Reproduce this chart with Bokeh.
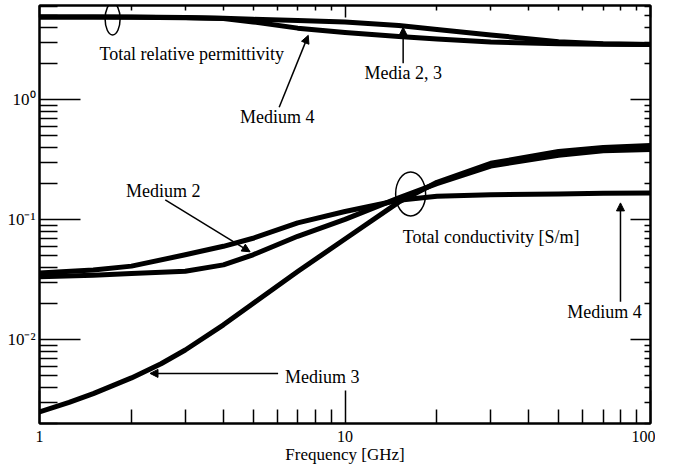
from bokeh.plotting import figure
from bokeh.models import LogAxis, FixedTicker, Arrow, NormalHead, Label
from bokeh.embed import file_html
from bokeh.resources import INLINE

# ---- data ----
freq = [1, 1.5, 2, 3, 4, 5, 7, 10, 15, 20, 30, 50, 70, 100]  # GHz

perm_media_2_3 = [4.9, 4.9, 4.9, 4.85, 4.78, 4.68, 4.58, 4.45, 4.16, 3.85, 3.47, 3.04, 2.93, 2.89]
perm_medium_4 = [4.9, 4.9, 4.88, 4.82, 4.75, 4.45, 3.95, 3.64, 3.37, 3.2, 3.03, 2.93, 2.9, 2.88]

cond_medium_2 = [0.0335, 0.0345, 0.0356, 0.0372, 0.042, 0.051, 0.0727, 0.1006, 0.152, 0.200, 0.28, 0.345, 0.375, 0.385]
cond_medium_4 = [0.036, 0.038, 0.041, 0.051, 0.060, 0.070, 0.094, 0.117, 0.145, 0.157, 0.161, 0.164, 0.166, 0.167]

freq_m3 = [1, 1.25, 1.5, 2, 2.5, 3, 4, 5, 7, 10, 15, 20, 30, 50, 70, 100]  # GHz
cond_medium_3 = [0.0025, 0.0030, 0.00355, 0.0048, 0.0063, 0.0082, 0.0133, 0.020, 0.037, 0.069,
                 0.14, 0.205, 0.295, 0.37, 0.40, 0.415]

x_major = [1, 10, 100]
x_minor = [2, 3, 4, 5, 6, 7, 8, 9, 20, 30, 40, 50, 60, 70, 80, 90]
y_major = [0.01, 0.1, 1]
y_minor = [0.002, 0.003, 0.004, 0.005, 0.006, 0.007, 0.008, 0.009,
           0.02, 0.03, 0.04, 0.05, 0.06, 0.07, 0.08, 0.09,
           0.2, 0.3, 0.4, 0.5, 0.6, 0.7, 0.8, 0.9,
           2, 3, 4, 5, 6]
x_labels = {1: "1", 10: "10", 100: "100"}
y_labels = {0.01: "10\u207b\u00b2", 0.1: "10\u207b\u00b9", 1: "10\u2070"}
x_title = "Frequency [GHz]"

FONT = "Liberation Serif"

p = figure(x_axis_type="log", y_axis_type="log",
           x_range=(1, 100), y_range=(0.002, 6.1),
           frame_width=611, frame_height=418,
           min_border_left=39, min_border_top=5, min_border_right=5, min_border_bottom=0,
           output_backend="svg", toolbar_location=None,
           margin=(0, 0, -8, 0))
p.background_fill_color = "white"
p.border_fill_color = "white"
p.outline_line_color = "black"
p.outline_line_width = 2
p.xgrid.visible = False
p.ygrid.visible = False

xt = FixedTicker(ticks=x_major, minor_ticks=x_minor)
yt = FixedTicker(ticks=y_major, minor_ticks=y_minor)

xa = p.xaxis[0]
xa.ticker = xt
xa.major_label_overrides = x_labels
xa.axis_label = x_title
ya = p.yaxis[0]
ya.ticker = yt
ya.major_label_overrides = y_labels

for ax in (xa, ya):
    ax.axis_line_width = 2
    ax.major_tick_out = 0
    ax.minor_tick_out = 0
    ax.major_tick_line_width = 1.5
    ax.minor_tick_line_width = 1.5
    ax.major_label_text_font = FONT
    ax.major_label_text_font_size = "16px"
    ax.major_label_text_color = "black"
    ax.axis_label_text_font = FONT
    ax.axis_label_text_font_size = "17px"
    ax.axis_label_text_font_style = "normal"
    ax.axis_label_text_color = "black"

xa.major_tick_in = 33
xa.minor_tick_in = 14
xa.major_label_standoff = 7
xa.axis_label_standoff = 0
ya.major_tick_in = 41
ya.minor_tick_in = 18
ya.major_label_standoff = 4
ya.major_label_text_font_size = "17px"

ra = LogAxis(ticker=yt, major_tick_in=20, minor_tick_in=6, major_tick_out=0, minor_tick_out=0,
             major_label_text_font_size="1px", major_label_text_alpha=0, major_label_standoff=0,
             axis_line_width=2, major_tick_line_width=1.5, minor_tick_line_width=1.5)
ta = LogAxis(ticker=xt, major_tick_in=12, minor_tick_in=5, major_tick_out=0, minor_tick_out=0,
             major_label_text_font_size="1px", major_label_text_alpha=0, major_label_standoff=0,
             axis_line_width=2, major_tick_line_width=1.5, minor_tick_line_width=1.5)
p.add_layout(ra, "right")
p.add_layout(ta, "above")

# ---- curves ----
for series in (perm_media_2_3, perm_medium_4, cond_medium_2, cond_medium_4):
    p.line(freq, series, line_color="black", line_width=5, line_join="round", line_cap="round")
p.line(freq_m3, cond_medium_3, line_color="black", line_width=5, line_join="round", line_cap="round")

# ---- annotations ----
p.ellipse(x=[1.735, 16.4], y=[4.71, 0.164], width=[15, 30], height=[32, 44],
          width_units="screen", height_units="screen",
          fill_color=None, line_color="black", line_width=1.5)

def label(x, y, text):
    p.add_layout(Label(x=x, y=y, text=text, text_align="center", text_baseline="middle",
                       text_font=FONT, text_font_size="18px", text_color="black"))

def arrow(x0, y0, x1, y1):
    p.add_layout(Arrow(end=NormalHead(size=8, fill_color="black", line_color="black", line_width=1),
                       x_start=x0, y_start=y0, x_end=x1, y_end=y1,
                       line_color="black", line_width=1.5))

label(3.15, 2.41, "Total relative permittivity")
label(6.0, 0.715, "Medium 4")
arrow(6.09, 0.866, 7.58, 3.44)
label(15.5, 1.66, "Media 2, 3")
arrow(15.5, 2.01, 15.5, 4.01)
label(2.54, 0.1735, "Medium 2")
arrow(2.58, 0.146, 4.89, 0.054)
label(30.1, 0.0719, "Total conductivity [S/m]")
label(70.7, 0.01713, "Medium 4")
arrow(79.75, 0.0207, 79.75, 0.138)
label(8.42, 0.00484, "Medium 3")
arrow(6.04, 0.00523, 2.30, 0.00523)

open("out.html", "w").write(file_html(p, INLINE))
